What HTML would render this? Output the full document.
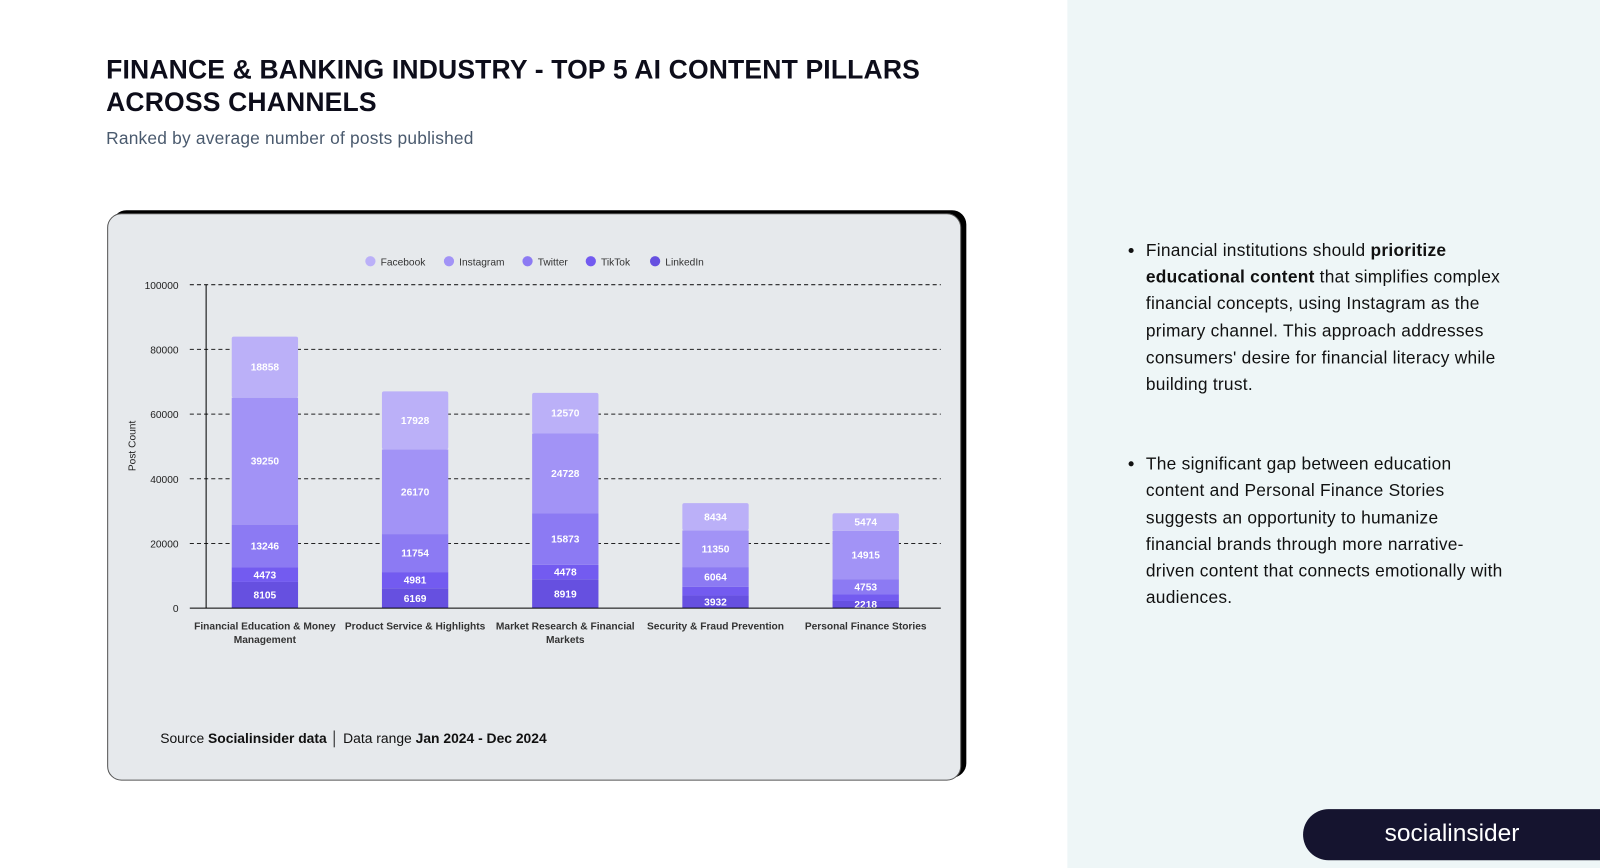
<!DOCTYPE html>
<html><head><meta charset="utf-8">
<style>
html,body{margin:0;padding:0}
body{width:1600px;height:851px;position:relative;background:#fff;font-family:"Liberation Sans",sans-serif;overflow:hidden}
#wrap{position:absolute;left:0;top:0;width:1568px;height:834px;transform:scale(1.0204);transform-origin:0 0}
.right{position:absolute;left:1046px;top:0;width:560px;height:851px;background:#eef6f7}
h1{position:absolute;left:104px;top:52px;margin:0;font-size:26px;line-height:32px;font-weight:700;color:#0d0d1a;width:860px;letter-spacing:0.15px}
.sub{position:absolute;left:104px;top:126px;font-size:17px;color:#4a5a6e;letter-spacing:0.2px}
.card{position:absolute;left:105px;top:209px;width:835px;height:554px;background:#e6e9ec;border:1px solid #555;border-radius:14px;box-shadow:5px -3px 0 #000}
.src{position:absolute;left:157px;top:716px;font-size:13.6px;color:#111}
ul{position:absolute;left:1100px;top:233px;width:420px;margin:0;padding-left:23px;font-size:17px;line-height:26.2px;color:#111;letter-spacing:0.25px;white-space:nowrap}
li{margin-bottom:52px}
.logo{position:absolute;left:1277px;top:793px;width:330px;height:50px;background:#15142f;border-radius:25px 0 0 25px;color:#fff;font-size:24px;line-height:48px;padding-left:80px;box-sizing:border-box}
</style></head><body>
<div id="wrap">
<h1>FINANCE &amp; BANKING INDUSTRY - TOP 5 AI CONTENT PILLARS ACROSS CHANNELS</h1>
<div class="sub">Ranked by average number of posts published</div>
<div class="card"></div>
<svg id="chart" width="1568" height="834" style="position:absolute;left:0;top:0" font-family="Liberation Sans, sans-serif"></svg>
<div class="src">Source <b>Socialinsider data</b> │ Data range <b>Jan 2024 - Dec 2024</b></div>
<div class="right"></div>
<ul>
<li>Financial institutions should <b>prioritize<br>educational content</b> that simplifies complex<br>financial concepts, using Instagram as the<br>primary channel. This approach addresses<br>consumers' desire for financial literacy while<br>building trust.</li>
<li>The significant gap between education<br>content and Personal Finance Stories<br>suggests an opportunity to humanize<br>financial brands through more narrative-<br>driven content that connects emotionally with<br>audiences.</li>
</ul>
<div class="logo">socialinsider</div>
</div>
<script>
const categories=[["Financial Education & Money","Management"],["Product Service & Highlights"],["Market Research & Financial","Markets"],["Security & Fraud Prevention"],["Personal Finance Stories"]];
const seriesNames=["LinkedIn","TikTok","Twitter","Instagram","Facebook"];
const linkedin=[8105,6169,8919,3932,2218];
const tiktok=[4473,4981,4478,2700,2000];
const twitter=[13246,11754,15873,6064,4753];
const instagram=[39250,26170,24728,11350,14915];
const facebook=[18858,17928,12570,8434,5474];
const showLabel=[[1,1,1,1,1],[1,1,1,0,0],[1,1,1,1,1],[1,1,1,1,1],[1,1,1,1,1]];
const yTicks=[0,20000,40000,60000,80000,100000];
const legendOrder=["Facebook","Instagram","Twitter","TikTok","LinkedIn"];
const colors={LinkedIn:"#6650e0",TikTok:"#735bf0",Twitter:"#8c7af3",Instagram:"#a293f6",Facebook:"#bbb0f8"};
const series=[linkedin,tiktok,twitter,instagram,facebook];
const NS="http://www.w3.org/2000/svg";
const svg=document.getElementById('chart');
const X0=186,X1=922,Y0=596,Y1=279,YMAX=100000;
const y=v=>Y0-(v/YMAX)*(Y0-Y1);
const band=(X1-X0)/categories.length;
const xc=i=>X0+band*(i+0.5);
const BW=65;
function mk(t,a){const e=document.createElementNS(NS,t);for(const k in a)e.setAttribute(k,a[k]);svg.appendChild(e);return e;}
yTicks.forEach(t=>{
  if(t>0){const g=mk('line',{x1:X0,x2:X1,y1:y(t),y2:y(t),stroke:'#222','stroke-dasharray':'4,3','stroke-width':1});
  
  }
  const tx=mk('text',{x:175,y:y(t)+4,'text-anchor':'end','font-size':10,fill:'#222'});tx.textContent=t;
  
  
});
const ya=mk('line',{x1:202,x2:202,y1:Y1,y2:Y0,stroke:'#000'});


const yt=mk('text',{x:133,y:437,'text-anchor':'middle','font-size':10,fill:'#222',transform:'rotate(-90 133 437)'});yt.textContent='Post Count';


categories.forEach((c,i)=>{
  let base=0;
  series.forEach((arr,si)=>{
    const v=arr[i];const top=base+v;
    const r=mk('rect',{x:xc(i)-BW/2,y:y(top),width:BW,height:y(base)-y(top),fill:colors[seriesNames[si]]});
    if(si===series.length-1){r.setAttribute('rx',2);}
    
    
    if(showLabel[si][i]){
      const t=mk('text',{x:xc(i),y:(y(base)+y(top))/2+3.5,'text-anchor':'middle','font-size':10,'font-weight':'bold',fill:'#fff'});t.textContent=v;
      
      
    }
    base=top;
  });
  c.forEach((ln,k)=>{const t=mk('text',{x:xc(i),y:617+k*13,'text-anchor':'middle','font-size':10,'font-weight':'bold',fill:'#333'});t.textContent=ln;
  
  });
});
const xa=mk('line',{x1:X0,x2:X1,y1:Y0,y2:Y0,stroke:'#000'});


const lx=[363,440,517,579,642];
legendOrder.forEach((n,i)=>{
  const c=mk('circle',{cx:lx[i],cy:256,r:5,fill:colors[n]});
  
  
  const t=mk('text',{x:lx[i]+10,y:260,'font-size':10,fill:'#333'});t.textContent=n;
  
  
});
</script>
</body></html>
